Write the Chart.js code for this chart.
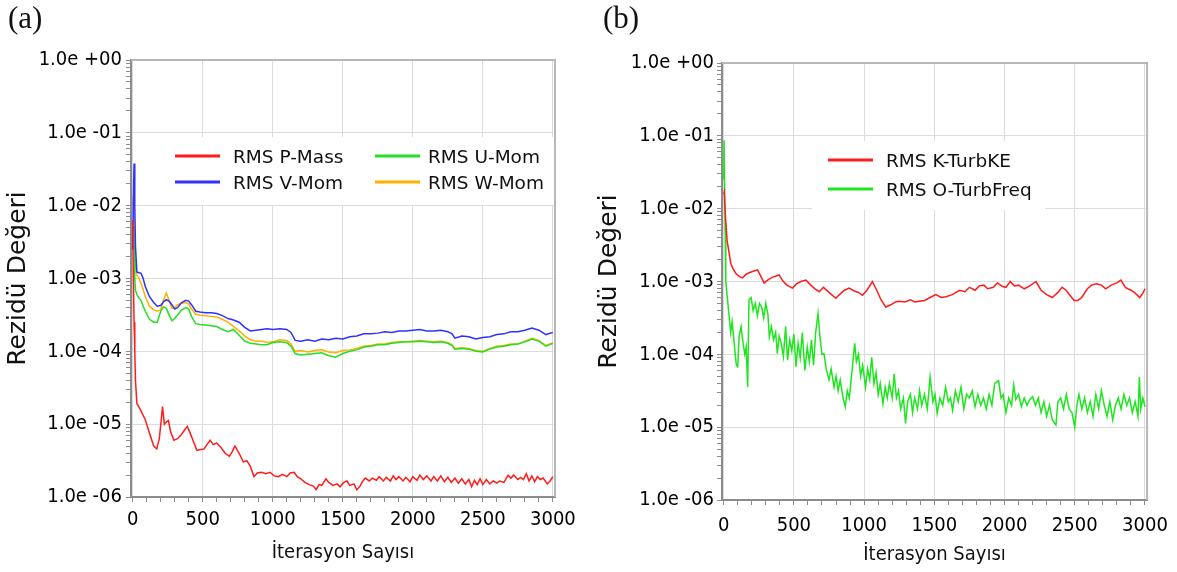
<!DOCTYPE html>
<html>
<head>
<meta charset="utf-8">
<script src="https://cdn.jsdelivr.net/npm/chart.js@4.4.0/dist/chart.umd.min.js"></script>
<style>
  body { margin: 0; background: #fff; width: 1177px; height: 572px; overflow: hidden; position: relative; }
  canvas { position: absolute; top: 0; }
  .tag { position: absolute; top: 3px; font-family: "Liberation Serif", serif; font-size: 31px; line-height: 30px; color: #111; }
</style>
</head>
<body>
<canvas id="chartA" width="590" height="572" style="left:0"></canvas>
<canvas id="chartB" width="587" height="572" style="left:590px"></canvas>
<div class="tag" style="left:8px">(a)</div>
<div class="tag" style="left:603px">(b)</div>
<script>
// eksen etiketleri
const yTickValues = [1e-6, 1e-5, 1e-4, 1e-3, 1e-2, 1e-1, 1];
const yTickLabels = ['1.0e -06', '1.0e -05', '1.0e -04', '1.0e -03', '1.0e -02', '1.0e -01', '1.0e +00'];
const xTickValues = [0, 500, 1000, 1500, 2000, 2500, 3000];
const xTickLabels = ['0', '500', '1000', '1500', '2000', '2500', '3000'];
const xMinorStep = 100;
const yTitle = 'Rezidü Değeri';
const xTitle = 'İterasyon Sayısı';

// (a) momentum residuals, values are log10 of the residual
const momIters = [0, 5, 10, 15, 20, 30, 45, 60, 75, 90, 120, 150, 175, 200, 220, 240, 260, 280, 300, 320,
  350, 380, 400, 420, 450, 480, 520, 560, 600, 640, 680, 720, 760, 800, 840, 880, 920, 960, 1000, 1050,
  1100, 1130, 1160, 1200, 1250, 1300, 1350, 1400, 1450, 1500, 1550, 1600, 1650, 1700, 1750, 1800, 1850,
  1900, 1950, 2000, 2050, 2100, 2150, 2200, 2250, 2280, 2300, 2350, 2400, 2450, 2500, 2550, 2600, 2650,
  2700, 2750, 2800, 2850, 2900, 2950, 3000];
const vMomLog = [-2.6, -1.9, -1.42, -2.0, -2.56, -2.91, -2.92, -2.93, -3.0, -3.11, -3.25, -3.33, -3.38, -3.37, -3.32,
  -3.29, -3.31, -3.36, -3.42, -3.40, -3.33, -3.30, -3.31, -3.36, -3.45, -3.46, -3.47, -3.47, -3.48, -3.51,
  -3.55, -3.57, -3.60, -3.67, -3.72, -3.71, -3.70, -3.69, -3.70, -3.69, -3.70, -3.74, -3.85, -3.86, -3.84,
  -3.86, -3.83, -3.84, -3.82, -3.83, -3.80, -3.79, -3.76, -3.76, -3.75, -3.73, -3.74, -3.72, -3.72, -3.71,
  -3.70, -3.72, -3.72, -3.71, -3.73, -3.76, -3.82, -3.79, -3.80, -3.83, -3.81, -3.80, -3.77, -3.76, -3.73,
  -3.73, -3.71, -3.68, -3.71, -3.77, -3.74];
const wMomLog = [-2.0, -1.88, -2.3, -2.7, -2.86, -2.95, -3.0, -3.07, -3.15, -3.25, -3.38, -3.43, -3.45, -3.43, -3.30,
  -3.20, -3.30, -3.41, -3.40, -3.36, -3.34, -3.33, -3.35, -3.42, -3.49, -3.50, -3.51, -3.52, -3.53, -3.56,
  -3.60, -3.66, -3.72, -3.79, -3.84, -3.86, -3.86, -3.88, -3.87, -3.84, -3.85, -3.90, -4.00, -3.99, -4.01,
  -3.99, -3.98, -4.01, -4.02, -3.99, -3.98, -3.96, -3.93, -3.92, -3.90, -3.90, -3.88, -3.87, -3.87, -3.86,
  -3.85, -3.86, -3.87, -3.86, -3.88, -3.91, -3.96, -3.95, -3.96, -3.99, -4.00, -3.96, -3.93, -3.92, -3.90,
  -3.90, -3.86, -3.82, -3.85, -3.92, -3.88];
const uMomLog = [-2.6, -2.29, -2.56, -3.0, -3.16, -3.22, -3.27, -3.30, -3.38, -3.45, -3.56, -3.60, -3.60, -3.45, -3.39,
  -3.41, -3.50, -3.58, -3.55, -3.50, -3.43, -3.40, -3.42, -3.52, -3.62, -3.63, -3.64, -3.65, -3.66, -3.70,
  -3.73, -3.70, -3.78, -3.86, -3.89, -3.90, -3.91, -3.91, -3.88, -3.87, -3.88, -3.93, -4.03, -4.05, -4.04,
  -4.03, -4.02, -4.06, -4.08, -4.03, -4.00, -3.98, -3.94, -3.93, -3.91, -3.91, -3.89, -3.88, -3.87, -3.87,
  -3.86, -3.87, -3.88, -3.87, -3.89, -3.92, -3.97, -3.96, -3.97, -4.00, -4.01, -3.97, -3.94, -3.93, -3.91,
  -3.90, -3.87, -3.83, -3.86, -3.93, -3.89];

const pMassIters = [0, 5, 10, 15, 20, 30, 40, 60, 90, 120, 150, 172, 190, 205, 213, 226, 240, 255, 270, 294,
  320, 345, 370, 390, 410, 430, 458, 480, 510, 530, 553, 575, 600, 630, 660, 690, 710, 730, 760, 790,
  815, 840, 866, 890, 920, 950, 980, 1010, 1040, 1070, 1100, 1125, 1153, 1175, 1200, 1230, 1260, 1290, 1310, 1330,
  1350, 1380, 1400, 1430, 1460, 1480, 1507, 1530, 1550, 1580, 1600, 1620, 1640, 1660, 1690, 1710, 1740, 1760, 1790, 1810,
  1840, 1860, 1880, 1900, 1930, 1950, 1980, 2000, 2030, 2050, 2075, 2100, 2130, 2150, 2175, 2200, 2225, 2250, 2275, 2300,
  2325, 2350, 2375, 2400, 2420, 2440, 2460, 2480, 2500, 2525, 2550, 2575, 2600, 2620, 2650, 2680, 2700, 2720, 2750, 2770,
  2790, 2810, 2830, 2850, 2870, 2890, 2910, 2930, 2960, 2980, 3000];
const pMassLog = [-2.2, -3.0, -3.6, -4.0, -4.4, -4.72, -4.75, -4.82, -4.94, -5.12, -5.30, -5.34, -5.20, -4.92, -4.76, -5.0, -4.97, -4.95, -5.10, -5.22,
  -5.20, -5.15, -5.08, -5.03, -5.12, -5.22, -5.36, -5.35, -5.34, -5.28, -5.22, -5.28, -5.26, -5.32, -5.40, -5.44, -5.38, -5.30, -5.40, -5.52,
  -5.50, -5.58, -5.72, -5.67, -5.66, -5.68, -5.66, -5.71, -5.72, -5.69, -5.72, -5.67, -5.66, -5.72, -5.75, -5.80, -5.83, -5.85, -5.90, -5.83,
  -5.84, -5.75, -5.80, -5.84, -5.82, -5.86, -5.80, -5.78, -5.84, -5.82, -5.90, -5.86, -5.79, -5.74, -5.78, -5.74, -5.77, -5.72, -5.78, -5.73,
  -5.78, -5.71, -5.76, -5.72, -5.78, -5.73, -5.79, -5.72, -5.77, -5.70, -5.76, -5.71, -5.78, -5.72, -5.78, -5.71, -5.79, -5.73, -5.80, -5.74,
  -5.81, -5.75, -5.82, -5.76, -5.86, -5.77, -5.83, -5.75, -5.83, -5.76, -5.82, -5.78, -5.81, -5.78, -5.80, -5.70, -5.74, -5.70, -5.76, -5.73,
  -5.76, -5.68, -5.78, -5.71, -5.79, -5.72, -5.76, -5.74, -5.82, -5.78, -5.72];

// (b) turbulence residuals (log10)
const kIters = [0, 4, 14, 25, 39, 50, 65, 87, 110, 134, 160, 181, 210, 241, 265, 288, 320, 350, 395, 420,
  450, 490, 520, 550, 585, 620, 650, 680, 710, 750, 798, 830, 860, 893, 930, 960, 988, 1020, 1059, 1090,
  1120, 1154, 1190, 1224, 1249, 1290, 1330, 1360, 1391, 1430, 1470, 1510, 1550, 1583, 1628, 1680, 1718, 1750, 1790, 1820,
  1853, 1880, 1920, 1950, 1986, 2010, 2040, 2070, 2100, 2140, 2180, 2224, 2260, 2300, 2340, 2380, 2410, 2438, 2470, 2495,
  2522, 2550, 2590, 2620, 2655, 2690, 2720, 2760, 2800, 2829, 2860, 2900, 2930, 2963, 2985, 3000];
const kTurbLog = [-1.8, -1.77, -2.16, -2.45, -2.61, -2.75, -2.82, -2.89, -2.93, -2.95, -2.90, -2.88, -2.86, -2.84, -2.93, -3.02, -2.97, -2.94, -2.91, -2.99,
  -3.05, -3.09, -3.03, -3.00, -2.98, -3.05, -3.10, -3.14, -3.08, -3.15, -3.23, -3.17, -3.12, -3.09, -3.13, -3.15, -3.19, -3.12, -3.00, -3.12,
  -3.25, -3.35, -3.32, -3.28, -3.27, -3.28, -3.25, -3.28, -3.27, -3.26, -3.22, -3.18, -3.22, -3.21, -3.18, -3.12, -3.14, -3.08, -3.12, -3.06,
  -3.05, -3.10, -3.08, -3.02, -3.07, -3.08, -3.00, -3.06, -3.05, -3.10, -3.06, -3.00, -3.12, -3.18, -3.22, -3.15, -3.08, -3.12, -3.20, -3.26,
  -3.26, -3.22, -3.10, -3.05, -3.03, -3.05, -3.10, -3.05, -3.02, -2.98, -3.08, -3.12, -3.16, -3.22, -3.16, -3.10];

const oIters = [0, 3, 10, 15, 25, 35, 50, 60, 75, 90, 100, 110, 124, 135, 150, 160, 171, 180, 195, 210,
  225, 240, 255, 270, 285, 300, 315, 325, 340, 355, 370, 382, 395, 410, 425, 441, 455, 470, 485, 500,
  515, 530, 545, 560, 578, 595, 610, 625, 640, 655, 672, 685, 700, 714, 730, 750, 765, 786, 800, 815,
  830, 850, 866, 880, 895, 910, 933, 945, 960, 975, 990, 1010, 1025, 1040, 1054, 1070, 1085, 1100, 1115, 1134,
  1150, 1165, 1180, 1200, 1214, 1230, 1245, 1260, 1280, 1295, 1310, 1330, 1345, 1360, 1380, 1395, 1410, 1430, 1450, 1470,
  1490, 1505, 1520, 1540, 1560, 1580, 1600, 1615, 1630, 1650, 1670, 1690, 1710, 1730, 1750, 1770, 1790, 1810, 1830, 1850,
  1870, 1890, 1910, 1930, 1958, 1975, 1990, 2010, 2030, 2050, 2065, 2080, 2100, 2120, 2140, 2160, 2180, 2200, 2220, 2240,
  2260, 2280, 2300, 2320, 2340, 2366, 2380, 2400, 2420, 2440, 2460, 2480, 2500, 2515, 2530, 2550, 2570, 2590, 2610, 2630,
  2650, 2670, 2690, 2710, 2730, 2750, 2770, 2790, 2810, 2830, 2850, 2870, 2890, 2910, 2930, 2950, 2960, 2970, 2985, 3000];
const oTurbLog = [-1.6, -1.06, -2.2, -3.0, -3.2, -3.4, -3.7, -3.55, -3.85, -4.15, -4.17, -3.75, -3.62, -3.8, -4.0, -3.9, -4.45, -3.25, -3.22, -3.4,
  -3.3, -3.47, -3.3, -3.35, -3.5, -3.3, -3.45, -3.76, -3.62, -3.8, -3.7, -3.99, -3.75, -3.85, -4.03, -3.62, -4.08, -3.8, -3.95, -3.72,
  -4.17, -3.85, -4.05, -3.7, -4.22, -3.9, -4.1, -3.8, -4.15, -3.7, -3.44, -3.75, -4.0, -3.99, -4.2, -4.35, -4.2, -4.45, -4.3, -4.5,
  -4.35, -4.6, -4.72, -4.5, -4.6, -4.3, -3.85, -4.1, -4.0, -4.3, -4.15, -4.45, -4.2, -4.35, -4.04, -4.4, -4.25, -4.55, -4.4, -4.68,
  -4.45, -4.6, -4.4, -4.6, -4.27, -4.6, -4.5, -4.75, -4.6, -4.95, -4.65, -4.55, -4.8, -4.6, -4.75, -4.5, -4.7, -4.55, -4.75, -4.31,
  -4.65, -4.55, -4.81, -4.6, -4.7, -4.45, -4.65, -4.6, -4.77, -4.5, -4.65, -4.45, -4.75, -4.55, -4.6, -4.5, -4.72, -4.55, -4.7, -4.6,
  -4.75, -4.55, -4.7, -4.4, -4.36, -4.6, -4.55, -4.8, -4.6, -4.7, -4.42, -4.62, -4.55, -4.72, -4.6, -4.7, -4.62, -4.58, -4.7, -4.6,
  -4.8, -4.65, -4.85, -4.7, -4.9, -4.97, -4.65, -4.6, -4.75, -4.55, -4.75, -4.8, -5.0, -4.7, -4.55, -4.75, -4.6, -4.8, -4.65, -4.85,
  -4.55, -4.75, -4.5, -4.7, -4.85, -4.65, -4.9, -4.7, -4.6, -4.75, -4.55, -4.7, -4.6, -4.8, -4.65, -4.85, -4.31, -4.75, -4.6, -4.72];

const toPoints = (xs, logs) => xs.map((x, i) => ({ x: x, y: Math.pow(10, logs[i]) }));

// plot frame (top / right) like the solver monitor
const frame = {
  id: 'frame',
  beforeDatasetsDraw(chart) {
    const { ctx, chartArea: a } = chart;
    ctx.save();
    ctx.strokeStyle = '#b8b8b8';
    ctx.lineWidth = 2;
    ctx.beginPath();
    ctx.moveTo(a.left, a.top);
    ctx.lineTo(a.right, a.top);
    ctx.lineTo(a.right, a.bottom);
    ctx.stroke();
    ctx.restore();
  }
};

// legend drawn inside the plot on a white box
const boxLegend = {
  id: 'boxLegend',
  afterDatasetsDraw(chart, args, opts) {
    const ctx = chart.ctx;
    const b = opts.box;
    ctx.save();
    ctx.fillStyle = '#fff';
    ctx.fillRect(b[0], b[1], b[2] - b[0], b[3] - b[1]);
    ctx.font = opts.font;
    ctx.textBaseline = 'middle';
    opts.items.forEach(it => {
      const ds = chart.data.datasets[it.index];
      ctx.strokeStyle = ds.borderColor;
      ctx.lineWidth = 3;
      ctx.beginPath();
      ctx.moveTo(it.x, it.y);
      ctx.lineTo(it.x + 45, it.y);
      ctx.stroke();
      ctx.fillStyle = '#111';
      ctx.fillText(ds.label, it.tx, it.y + 2);
    });
    ctx.restore();
  }
};

function yMajorMinor() {
  const t = [];
  yTickValues.forEach((v, i) => {
    t.push({ value: v, major: true });
    if (i < yTickValues.length - 1) {
      for (let m = 2; m < 10; m++) t.push({ value: v * m, major: false });
    }
  });
  return t;
}

function xMajorMinor() {
  const t = [];
  for (let v = xTickValues[0]; v <= xTickValues[xTickValues.length - 1]; v += xMinorStep) {
    t.push({ value: v, major: xTickValues.includes(v) });
  }
  return t;
}

function yLabel(value) {
  const i = yTickValues.findIndex(v => Math.abs(v - value) / v < 1e-6);
  return i < 0 ? '' : yTickLabels[i];
}

function xLabel(value) {
  const i = xTickValues.indexOf(value);
  return i < 0 ? '' : xTickLabels[i];
}

const tickFont = { family: 'DejaVu Sans Condensed, DejaVu Sans', size: 20 };

function makeOptions(p) {
  return {
    responsive: false,
    animation: false,
    layout: { padding: { left: 0, top: p.top, right: p.right, bottom: 0 } },
    plugins: {
      legend: { display: false },
      tooltip: { enabled: false },
      boxLegend: p.legend
    },
    scales: {
      x: {
        type: 'linear',
        min: -12,
        max: 3015,
        afterBuildTicks: s => { s.ticks = xMajorMinor(); },
        afterFit: s => { s.height = p.xHeight; },
        grid: {
          color: c => (c.tick && c.tick.major) ? '#dcdcdc' : 'rgba(0,0,0,0)',
          tickColor: '#8c8c8c',
          tickLength: 5
        },
        border: { color: '#8c8c8c', width: 2 },
        ticks: {
          autoSkip: false, maxRotation: 0, minRotation: 0,
          padding: p.xPad, color: '#000', font: tickFont,
          callback: v => xLabel(v)
        },
        title: {
          display: true, text: xTitle, color: '#111',
          font: { family: 'DejaVu Sans Condensed, DejaVu Sans', size: 20 },
          padding: { top: 0, bottom: p.xTitlePad }
        }
      },
      y: {
        type: 'logarithmic',
        min: 1e-6,
        max: 1,
        afterBuildTicks: s => { s.ticks = yMajorMinor(); },
        afterFit: s => { s.width = p.yWidth; },
        grid: {
          color: c => (c.tick && c.tick.major) ? '#dcdcdc' : 'rgba(0,0,0,0)',
          tickColor: '#8c8c8c',
          tickLength: 5
        },
        border: { color: '#8c8c8c', width: 2 },
        ticks: {
          autoSkip: false, padding: p.yPad, color: '#000', font: tickFont,
          callback: v => yLabel(v)
        },
        title: {
          display: true, text: yTitle, color: '#111',
          font: { family: 'DejaVu Sans', size: 25, lineHeight: 1 },
          padding: { top: p.yTitlePad, bottom: 0 }
        }
      }
    }
  };
}

const lineStyle = { borderWidth: 1.5, pointRadius: 0, tension: 0, fill: false };
const legendFont = '18.5px "DejaVu Sans"';

new Chart(document.getElementById('chartA'), {
  type: 'line',
  data: {
    datasets: [
      { label: 'RMS P-Mass', data: toPoints(pMassIters, pMassLog), borderColor: '#ff1c1c', ...lineStyle },
      { label: 'RMS V-Mom', data: toPoints(momIters, vMomLog), borderColor: '#3030ff', ...lineStyle },
      { label: 'RMS U-Mom', data: toPoints(momIters, uMomLog), borderColor: '#22e022', ...lineStyle },
      { label: 'RMS W-Mom', data: toPoints(momIters, wMomLog), borderColor: '#ffb000', ...lineStyle }
    ]
  },
  options: makeOptions({
    top: 60, right: 35, xHeight: 75, yWidth: 131, xPad: 6, yPad: 4, xTitlePad: 7, yTitlePad: 6,
    legend: {
      box: [160, 137, 553, 205], font: legendFont,
      items: [
        { index: 0, x: 175, y: 156, tx: 233 },
        { index: 1, x: 175, y: 182, tx: 233 },
        { index: 2, x: 375, y: 156, tx: 428 },
        { index: 3, x: 375, y: 182, tx: 428 }
      ]
    }
  }),
  plugins: [frame, boxLegend]
});

new Chart(document.getElementById('chartB'), {
  type: 'line',
  data: {
    datasets: [
      { label: 'RMS K-TurbKE', data: toPoints(kIters, kTurbLog), borderColor: '#ff1c1c', ...lineStyle },
      { label: 'RMS O-TurbFreq', data: toPoints(oIters, oTurbLog), borderColor: '#1ee61e', ...lineStyle }
    ]
  },
  options: makeOptions({
    top: 63, right: 28, xHeight: 72, yWidth: 132, xPad: 9, yPad: 3, xTitlePad: 5, yTitlePad: 7,
    legend: {
      box: [222, 141, 455, 210], font: legendFont,
      items: [
        { index: 0, x: 238, y: 160, tx: 296 },
        { index: 1, x: 238, y: 189, tx: 296 }
      ]
    }
  }),
  plugins: [frame, boxLegend]
});
</script>
</body>
</html>
